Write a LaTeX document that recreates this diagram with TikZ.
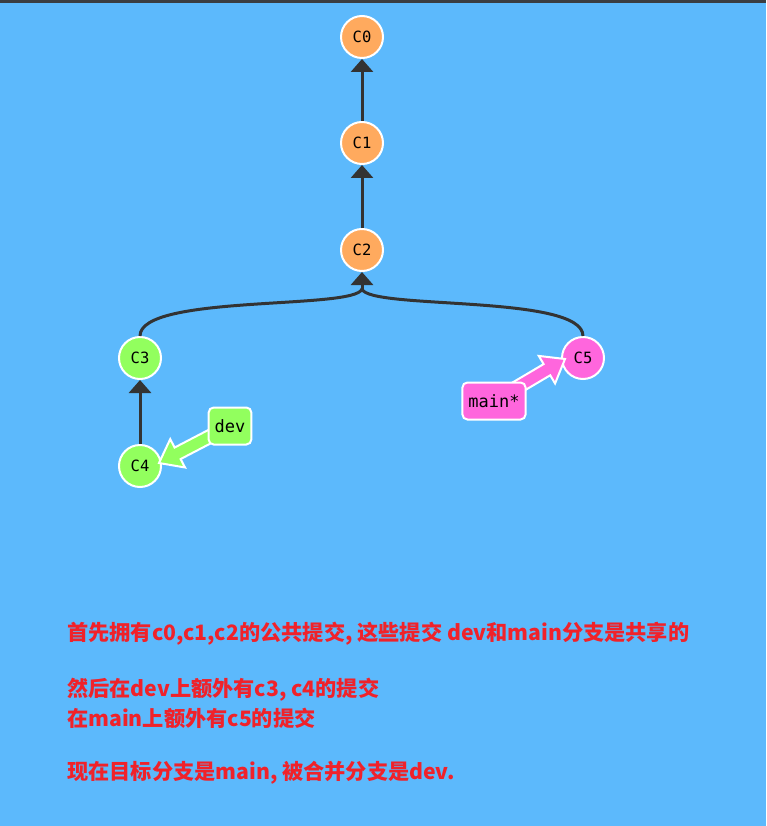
\documentclass[tikz,border=0pt]{standalone}
\usepackage{fontspec}
\usetikzlibrary{arrows.meta,calc}
\newfontfamily\cjk{Noto Sans CJK SC}
\newfontfamily\monof{DejaVu Sans Mono}
\definecolor{bgc}{RGB}{92,185,252}
\definecolor{barc}{RGB}{58,61,66}
\definecolor{orangeC}{RGB}{255,170,94}
\definecolor{greenC}{RGB}{146,255,94}
\definecolor{pinkC}{RGB}{255,102,221}
\definecolor{linkc}{RGB}{51,51,51}
\definecolor{redt}{RGB}{240,34,42}
\newcommand\fatarrow[3]{%
  \path (#3) coordinate (fT) ($(#3)!21pt!(#2)$) coordinate (fB) (#2) coordinate (fS);
  \filldraw[fill=#1, draw=white, line width=2pt, line join=miter]
    ($(fS)!6.5pt!90:(fT)$) -- ($(fB)!6.5pt!90:(fT)$) -- ($(fB)!16pt!90:(fT)$) -- (fT)
    -- ($(fB)!16pt!-90:(fT)$) -- ($(fB)!6.5pt!-90:(fT)$) -- ($(fS)!6.5pt!-90:(fT)$) -- cycle;}
\tikzset{
  commit/.style={circle, minimum size=42pt, inner sep=0pt, draw=white, line width=2pt,
    font=\monof\fontsize{15.5}{15.5}\selectfont},
  link/.style={draw=linkc, line width=3pt, -{Triangle[width=22pt,length=13pt]}},
  linkn/.style={draw=linkc, line width=3pt},
  branch/.style={draw=white, line width=2pt, rounded corners=5pt, minimum height=37pt,
    inner xsep=6pt, font=\monof\fontsize{17}{17}\selectfont},
  note/.style={anchor=west, inner sep=0pt, text=redt, font=\cjk\bfseries\fontsize{21.2}{21.2}\selectfont}
}
\begin{document}
\begin{tikzpicture}[x=1pt,y=-1pt]
\fill[bgc] (0,0) rectangle (766,826);
\fill[barc] (0,0) rectangle (766,3);
\useasboundingbox (0,0) rectangle (766,826);

\node[commit, fill=orangeC] (c0) at (362,37) {C0};
\node[commit, fill=orangeC] (c1) at (362,143) {C1};
\node[commit, fill=orangeC] (c2) at (362,250) {C2};
\node[commit, fill=greenC] (c3) at (140,358) {C3};
\node[commit, fill=greenC] (c4) at (140,466) {C4};
\node[commit, fill=pinkC] (c5) at (583,358) {C5};

\draw[link] (c1) -- (c0);
\draw[link] (c2) -- (c1);
\draw[link] (c4) -- (c3);
\coordinate (j) at ($(c2.south)+(0,17)$);
\draw[linkn] (c3.north) .. controls (140,294) and (355,310) .. (j);
\draw[linkn] (c5.north) .. controls (583,294) and (369,310) .. (j);
\draw[link] (j) -- (c2.south);

\coordinate (devc) at (230,426);
\coordinate (t4) at (159,463);
\fatarrow{greenC}{devc}{t4}
\coordinate (mainc) at (494,401);
\coordinate (t5) at (565,359);
\fatarrow{pinkC}{mainc}{t5}

\node[branch, fill=greenC] (dev) at (devc) {dev};
\node[branch, fill=pinkC] (main) at (mainc) {main*};

\node[note] (n1) at (67,634) {首先拥有c0,c1,c2的公共提交, 这些提交 dev和main分支是共享的};
\node[note] (n2) at (67,690) {然后在dev上额外有c3, c4的提交};
\node[note] (n3) at (67,718) {在main上额外有c5的提交};
\node[note] (n4) at (67,773) {现在目标分支是main, 被合并分支是dev.};
\end{tikzpicture}
\end{document}
